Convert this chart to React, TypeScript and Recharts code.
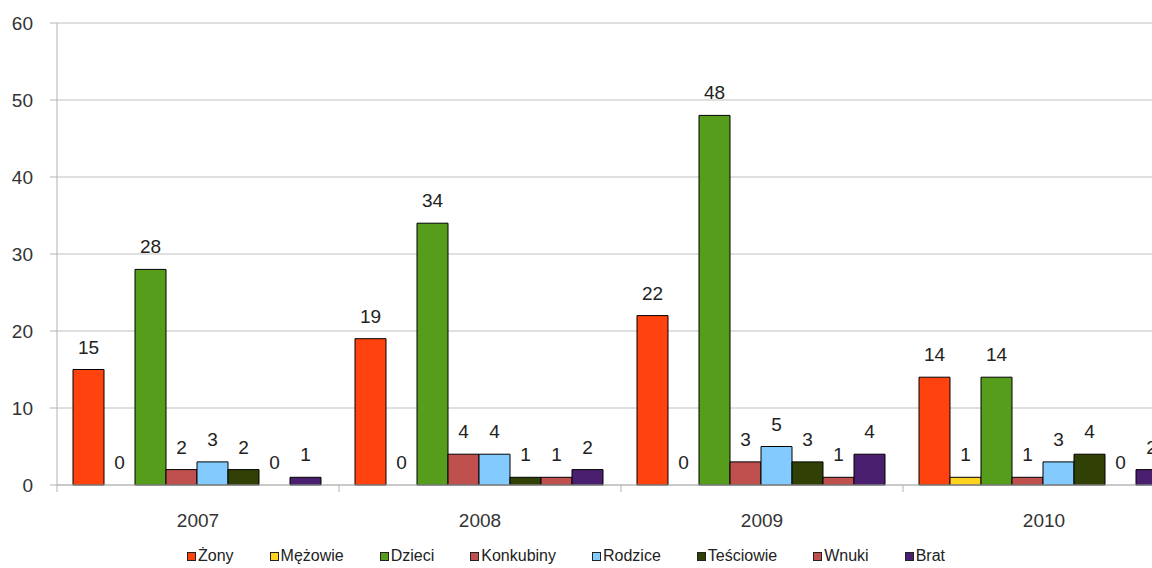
import { BarChart, Bar, XAxis, YAxis, CartesianGrid, LabelList, Rectangle } from "recharts";

const years = ["2007", "2008", "2009", "2010"];
const zony = [15, 19, 22, 14];
const mezowie = [0, 0, 0, 1];
const dzieci = [28, 34, 48, 14];
const konkubiny = [2, 4, 3, 1];
const rodzice = [3, 4, 5, 3];
const tesciowie = [2, 1, 3, 4];
const wnuki = [0, 1, 1, 0];
const brat = [1, 2, 4, 2];
const yTicks = [0, 10, 20, 30, 40, 50, 60];

const series = [
  { key: "zony", name: "Żony", values: zony, color: "#ff420e" },
  { key: "mezowie", name: "Mężowie", values: mezowie, color: "#ffd320" },
  { key: "dzieci", name: "Dzieci", values: dzieci, color: "#579d1c" },
  { key: "konkubiny", name: "Konkubiny", values: konkubiny, color: "#c0504d" },
  { key: "rodzice", name: "Rodzice", values: rodzice, color: "#83caff" },
  { key: "tesciowie", name: "Teściowie", values: tesciowie, color: "#314004" },
  { key: "wnuki", name: "Wnuki", values: wnuki, color: "#c0504d" },
  { key: "brat", name: "Brat", values: brat, color: "#4b1f6f" },
];

const data = years.map((year, i) => {
  const row: Record<string, string | number> = { year };
  series.forEach((s) => {
    row[s.key] = s.values[i];
  });
  return row;
});

const FONT = "'Liberation Sans', Arial, sans-serif";
const CHART_W = 1200;
const MARGIN = { top: 23, right: 15, bottom: 0, left: 0 };
const Y_W = 57;
const HALF_BAND = (CHART_W - MARGIN.right - Y_W) / years.length / 2;

const YearTick = (props: any) => {
  const { x, y, payload } = props;
  return (
    <g>
      <line x1={x - HALF_BAND} x2={x - HALF_BAND} y1={y} y2={y + 7} stroke="#b3b3b3" />
      <text x={x} y={y + 42} textAnchor="middle" fill="#333" fontSize={19} fontFamily={FONT}>
        {payload.value}
      </text>
    </g>
  );
};

// zero values keep a hairline bar so the "0" label still shows, but nothing is drawn
const BarShape = (props: any) => {
  if (props.height < 0.5) return <g />;
  return <Rectangle {...props} />;
};

export default function App() {
  return (
    <div
      style={{
        position: "absolute",
        left: 0,
        top: 0,
        width: 1152,
        height: 568,
        overflow: "hidden",
        background: "#fff",
        fontFamily: FONT,
      }}
    >
      <BarChart
        width={CHART_W}
        height={568}
        data={data}
        margin={MARGIN}
        barCategoryGap={16}
        barGap={0}
      >
        <CartesianGrid vertical={false} stroke="#c0c0c0" />
        <XAxis
          dataKey="year"
          height={83}
          axisLine={{ stroke: "#b3b3b3" }}
          tickLine={false}
          tickSize={0}
          tickMargin={0}
          interval={0}
          tick={<YearTick />}
        />
        <YAxis
          width={Y_W}
          domain={[0, 60]}
          ticks={yTicks}
          interval={0}
          axisLine={{ stroke: "#b3b3b3" }}
          tickLine={{ stroke: "#b3b3b3" }}
          tickSize={7}
          tickMargin={17}
          tick={{ fill: "#333", fontSize: 19, fontFamily: FONT }}
        />
        {series.map((s) => (
          <Bar
            key={s.key}
            dataKey={s.key}
            name={s.name}
            fill={s.color}
            stroke="#000"
            strokeWidth={1}
            minPointSize={0.01}
            shape={<BarShape />}
            isAnimationActive={false}
          >
            <LabelList
              dataKey={s.key}
              position="top"
              offset={16}
              fill="#222"
              fontSize={19}
              fontFamily={FONT}
            />
          </Bar>
        ))}
      </BarChart>
      <div
        style={{
          position: "absolute",
          left: 187,
          top: 547,
          display: "flex",
          alignItems: "center",
          fontSize: 16,
          color: "#222",
          whiteSpace: "nowrap",
        }}
      >
        {series.map((s) => (
          <div key={s.key} style={{ display: "flex", alignItems: "center", marginRight: 36 }}>
            <span
              style={{
                display: "inline-block",
                width: 7,
                height: 7,
                background: s.color,
                border: "1px solid #222",
                marginRight: 2,
              }}
            />
            <span>{s.name}</span>
          </div>
        ))}
      </div>
    </div>
  );
}
